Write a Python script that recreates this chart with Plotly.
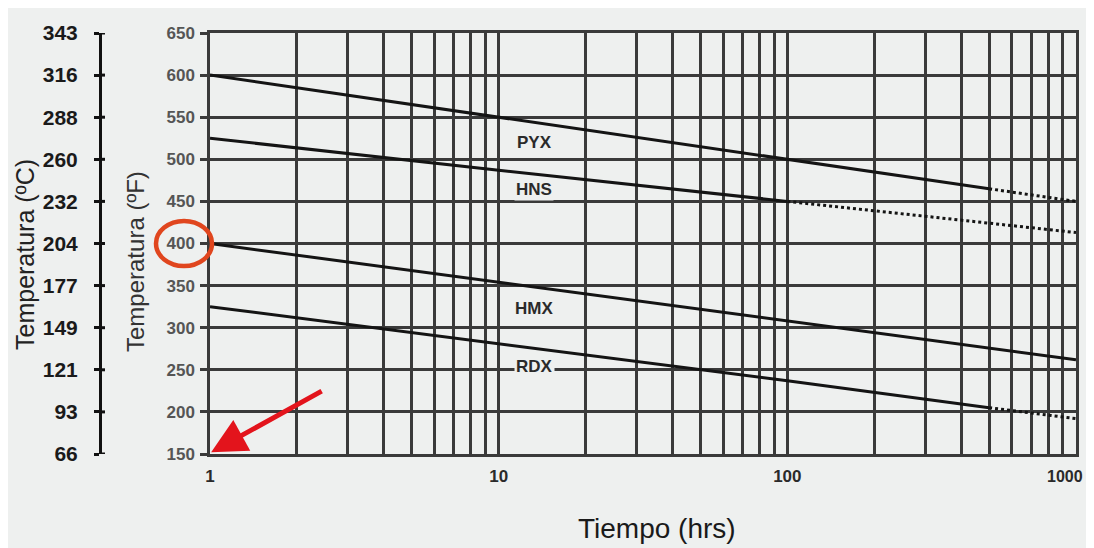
import math
import plotly.graph_objects as go

# ---------------- data ----------------
names = ["PYX", "HNS", "HMX", "RDX"]
solid_x = {
    "PYX": [1, 10, 100, 500],
    "HNS": [1, 10, 100],
    "HMX": [1, 10, 100, 1000],
    "RDX": [1, 10, 100, 500],
}
solid_y = {
    "PYX": [600, 550, 500, 465],
    "HNS": [525, 487, 450],
    "HMX": [400, 354, 308, 262],
    "RDX": [325, 281, 237, 205],
}
dot_x = {
    "PYX": [500, 1000],
    "HNS": [100, 1000],
    "RDX": [500, 1000],
}
dot_y = {
    "PYX": [465, 450],
    "HNS": [450, 413],
    "RDX": [205, 192],
}
label_x = [13.3, 13.3, 13.3, 13.3]
label_y = [520, 464, 323, 254]

f_ticks = [650, 600, 550, 500, 450, 400, 350, 300, 250, 200, 150]
c_ticks = ["343", "316", "288", "260", "232", "204", "177", "149", "121", "93", "66"]

x_grid = [1, 2, 3, 4, 5, 6, 7, 8, 9, 10, 20, 30, 40, 50, 60, 70, 80, 90,
          100, 200, 300, 400, 500, 600, 700, 800, 900, 1000]
x_labels = {1: "1", 10: "10", 100: "100", 1000: "1000"}

# ---------------- layout geometry (pixels) ----------------
OFF = 8                      # page body margin
W, H = 1078, 540
ML, MR, MT, MB = 2, 10, 25, 94
PW = W - ML - MR
PH = H - MT - MB


def px(sx):
    """screen x pixel -> paper x"""
    return (sx - OFF - ML) / PW


def py(sy):
    """screen y pixel -> paper y"""
    return (H - MB - (sy - OFF)) / PH


BG = "#eef0ef"
GRID = "#3a3a3a"
LINE = "#141414"
FONT = "Liberation Sans, Arial, sans-serif"

fig = go.Figure()

for n in names:
    fig.add_trace(go.Scatter(x=solid_x[n], y=solid_y[n], mode="lines",
                             line=dict(color=LINE, width=3), showlegend=False,
                             hoverinfo="skip"))
    if n in dot_x:
        fig.add_trace(go.Scatter(x=dot_x[n], y=dot_y[n], mode="lines",
                                 line=dict(color=LINE, width=3, dash="dot"),
                                 showlegend=False, hoverinfo="skip"))

# invisible trace to activate yaxis2
fig.add_trace(go.Scatter(x=[1], y=[400], yaxis="y2", mode="markers",
                         marker=dict(opacity=0), showlegend=False, hoverinfo="skip"))

# series labels
for n, lx, ly in zip(names, label_x, label_y):
    fig.add_annotation(x=math.log10(lx), y=ly, text=n, showarrow=False,
                       xanchor="center", yanchor="middle",
                       font=dict(family=FONT, size=17, color="#2a2a2a", weight="bold"),
                       bgcolor=BG, borderpad=1)

# Celsius axis right-side tick marks
for v in f_ticks:
    fig.add_shape(type="line", xref="paper", yref="y", x0=px(100), x1=px(105),
                  y0=v, y1=v, line=dict(color="#111", width=3))

# red circle round 400
fig.add_shape(type="circle", xref="paper", yref="paper",
              x0=px(156), x1=px(212), y0=py(266), y1=py(221),
              line=dict(color="#e0461e", width=4.5))

# red arrow
fig.add_annotation(x=0.004, y=152, ax=112, ay=-62, text="", showarrow=True,
                   arrowhead=2, arrowsize=1.4, arrowwidth=5, arrowcolor="#e3141c")

# titles
fig.add_annotation(xref="paper", yref="paper", x=px(25), y=py(255),
                   xanchor="center", yanchor="middle",
                   text="Temperatura (ºC)", textangle=-90, showarrow=False,
                   font=dict(family=FONT, size=25, color="#222"))
fig.add_annotation(xref="paper", yref="paper", x=px(135), y=py(262),
                   xanchor="center", yanchor="middle",
                   text="Temperatura (ºF)", textangle=-90, showarrow=False,
                   font=dict(family=FONT, size=24, color="#333"))
fig.add_annotation(xref="paper", yref="paper", x=px(657), y=py(528),
                   xanchor="center", yanchor="middle",
                   text="Tiempo (hrs)", showarrow=False,
                   font=dict(family=FONT, size=28, color="#1a1a1a"))
# the last tick label, placed so it stays inside the page
fig.add_annotation(xref="paper", yref="paper", x=px(1085), y=py(476),
                   xanchor="right", yanchor="middle",
                   text=x_labels[1000], showarrow=False,
                   font=dict(family=FONT, size=16, color="#2a2a2a", weight="bold"))

fig.update_layout(
    template="none",
    width=W, height=H,
    margin=dict(l=ML, r=MR, t=MT, b=MB, pad=0),
    paper_bgcolor=BG,
    plot_bgcolor=BG,
    showlegend=False,
    xaxis=dict(
        type="log", range=[0, 3], domain=[px(210), 1],
        tickvals=x_grid,
        ticktext=[x_labels.get(v, "") if v != 1000 else "" for v in x_grid],
        showgrid=True, gridcolor=GRID, gridwidth=2.5,
        showline=True, linecolor=GRID, linewidth=2.5, mirror=True,
        ticks="", ticklabelstandoff=5, zeroline=False,
        tickfont=dict(family=FONT, size=17, color="#2a2a2a", weight="bold"),
        automargin=False,
    ),
    yaxis=dict(
        range=[150, 650], tickvals=f_ticks,
        showgrid=True, gridcolor=GRID, gridwidth=2.5,
        showline=True, linecolor=GRID, linewidth=2.5, mirror=True,
        ticks="outside", ticklen=7, tickwidth=2.5, tickcolor=GRID,
        ticklabelstandoff=2, zeroline=False,
        tickfont=dict(family=FONT, size=17, color="#555555", weight="bold"),
        automargin=False,
    ),
    yaxis2=dict(
        range=[150, 650], overlaying="y", side="left", anchor="free",
        position=px(100),
        tickvals=f_ticks, ticktext=c_ticks,
        showgrid=False, zeroline=False,
        showline=True, linecolor="#111", linewidth=3,
        ticks="outside", ticklen=5, tickwidth=3, tickcolor="#111",
        ticklabelstandoff=12,
        tickfont=dict(family=FONT, size=21, color="#1a1a1a", weight="bold"),
        automargin=False,
    ),
)

fig.write_html("out.html")
